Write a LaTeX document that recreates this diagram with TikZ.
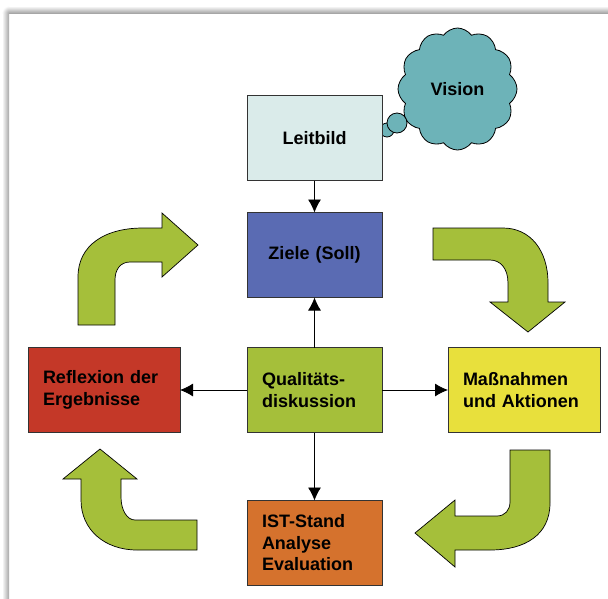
\documentclass[tikz,border=0pt]{standalone}
\usepackage{fontspec}
\setmainfont{Liberation Sans}
\usetikzlibrary{arrows.meta,positioning,shapes.symbols}
\definecolor{leitcol}{HTML}{DAEBEA}
\definecolor{zieleblue}{HTML}{5A6BB3}
\definecolor{qualigreen}{HTML}{A5BF3A}
\definecolor{reflred}{HTML}{C43828}
\definecolor{massyellow}{HTML}{E8E03C}
\definecolor{istorange}{HTML}{D5722D}
\definecolor{visionteal}{HTML}{6DB3B8}
\definecolor{arrowgreen}{HTML}{A5BF3A}

\begin{document}
\begin{tikzpicture}[x=1pt,y=-1pt,>={Latex[length=13pt,width=13pt]},
                    line width=0.8pt,
  stage/.style={draw=black!80,minimum height=85pt,outer sep=0pt,inner ysep=2pt,
                font=\fontsize{18}{21.5}\selectfont\bfseries},
  mid/.style={stage,text width=105pt,inner xsep=15pt,align=left},
  midc/.style={stage,text width=105pt,inner xsep=15pt,align=center},
  side/.style={stage,text width=122pt,inner xsep=15pt,align=left},
  bubble/.style={circle,draw=black,fill=visionteal,inner sep=0pt},
  bigarrow/.style={draw=black,line width=0.7pt,fill=arrowgreen}]

\useasboundingbox (0,0) rectangle (608,598);

% page shadow
\shade[left color=white,right color=black!35] (2,13) rectangle (9,598);
\shade[top color=white,bottom color=black!35] (9,6) rectangle (608,13);
\begin{scope}
  \clip (2,6) rectangle (9,13);
  \shade[inner color=black!35,outer color=white] (9,13) circle (7);
\end{scope}

 \node[mid,fill=qualigreen] (quali) at (314.5,390) {Qualitäts-\\diskussion};
\node[midc,fill=zieleblue] (ziele) [above=50pt of quali] {Ziele (Soll)};
\node[mid,fill=istorange] (ist) [below=68pt of quali] {IST-Stand\\Analyse\\Evaluation};
\node[side,fill=reflred] (reflexion) [left=67pt of quali] {Reflexion der\\Ergebnisse};
\node[side,fill=massyellow] (massnahmen) [right=66pt of quali] {Maßnahmen\\und Aktionen};

% vision cloud with thought bubbles
\node[cloud,cloud puffs=12,cloud puff arc=110,aspect=0.95,draw=black,
      fill=visionteal,minimum width=119pt,minimum height=122pt,
      font=\fontsize{18}{21.5}\selectfont\bfseries] (vision) at (457.5,89) {Vision};
\node[bubble,minimum size=14pt] (bubblesmall) at (387,130) {};
\node[bubble,minimum size=20pt] (bubblebig) at (397,123) {};

\node[midc,fill=leitcol] (leitbild) [above=32pt of ziele] {Leitbild};

  \draw[->] (leitbild) -- (ziele);
  \draw[->] (quali) -- (ziele);
  \draw[->] (quali) -- (reflexion);
  \draw[->] (quali) -- (massnahmen);
  \draw[->] (quali) -- (ist);

% curved block arrows
\draw[bigarrow] (78,325) -- (78,277) .. controls (78,245) and (105,228) .. (143,228)
  -- (162,228) -- (162,213) -- (198,245) -- (162,277) -- (162,262) -- (130,262)
  .. controls (120,262) and (115,270) .. (115,280) -- (115,325) -- cycle;
\draw[bigarrow] (433,228) -- (503,228) .. controls (530,228) and (548,250) .. (548,283)
  -- (548,302) -- (565,302) -- (528,332) -- (490,302) -- (508,302) -- (508,283)
  .. controls (508,268) and (500,260) .. (490,260) -- (433,260) -- cycle;
\draw[bigarrow] (510,450) -- (550,450) -- (550,503) .. controls (550,535) and (525,550) .. (490,550)
  -- (455,550) -- (455,567) -- (415,533) -- (455,500) -- (455,516) -- (497,516)
  .. controls (505,516) and (510,510) .. (510,502) -- cycle;
\draw[bigarrow] (197,520) -- (197,550) -- (137,550) .. controls (105,550) and (81,530) .. (81,500)
  -- (81,479) -- (63,479) -- (100,449) -- (137,479) -- (121,479) -- (121,497)
  .. controls (121,510) and (127,520) .. (135,520) -- cycle;

\end{tikzpicture}
\end{document}
